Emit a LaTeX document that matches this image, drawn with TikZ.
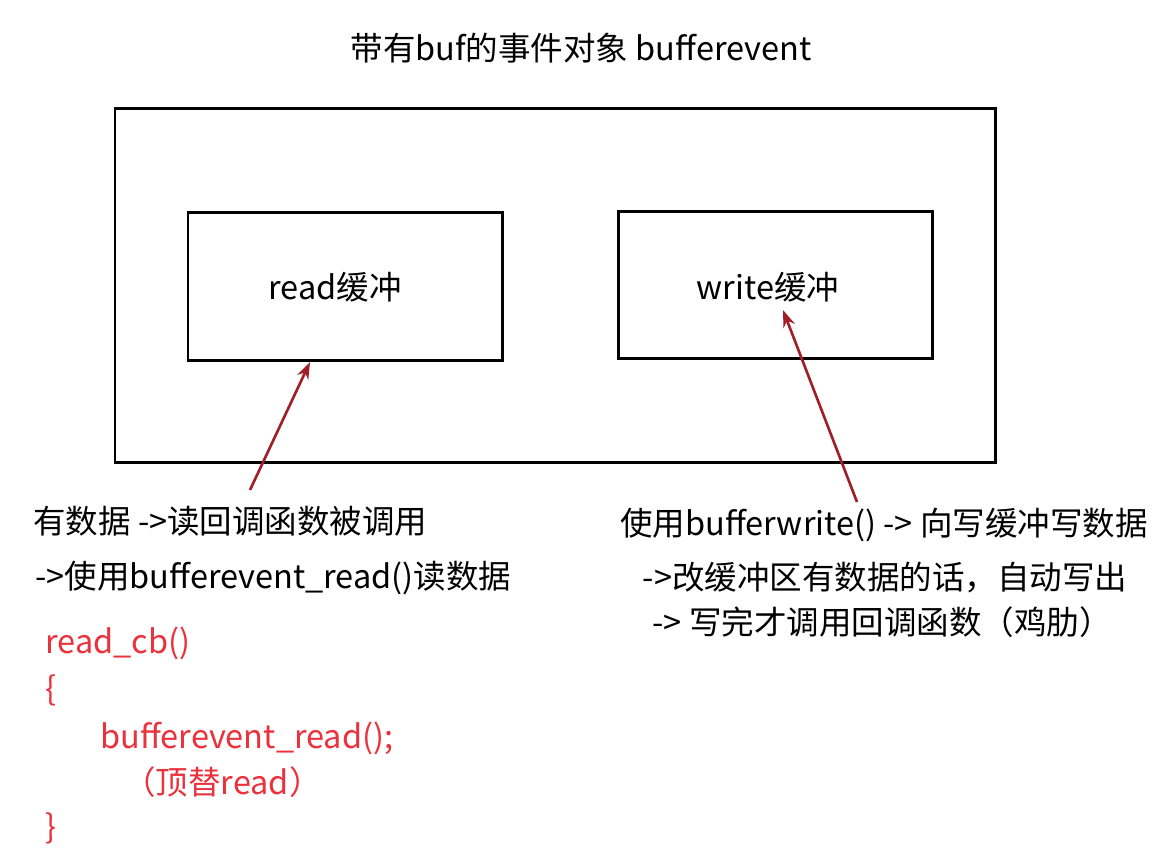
\documentclass[tikz,border=0pt]{standalone}
\usepackage{fontspec}
\setmainfont{Noto Sans CJK SC}
\usetikzlibrary{arrows.meta}
\definecolor{arrowred}{RGB}{160,30,40}
\definecolor{codered}{RGB}{235,50,60}
\begin{document}
\begin{tikzpicture}[x=0.02cm,y=-0.02cm,
    box/.style={draw,line width=1.7pt},
    txt/.style={inner sep=0pt,font=\fontsize{18.5}{22}\selectfont},
    code/.style={txt,anchor=west,text=codered},
    ptr/.style={-{Stealth[length=0.34cm,width=0.24cm]},draw=arrowred,line width=1.5pt}]
    \useasboundingbox (0,0) rectangle (1172,860);
    \node[txt] (title) at (581,48) {带有buf的事件对象 bufferevent};
    \draw[box] (115,108) rectangle (995,462);
    \draw[box] (188,212) rectangle (502,360);
    \draw[box] (618,211) rectangle (932,358);
    \node[txt] (rbuf) at (335,287) {read缓冲};
    \node[txt] (wbuf) at (768,287) {write缓冲};
    \coordinate (rfrom) at (250,490);
    \coordinate (rto) at (310,362);
    \coordinate (wfrom) at (857,502);
    \coordinate (wto) at (783,310);
    \draw[ptr] (rfrom) -- (rto);
    \draw[ptr] (wfrom) -- (wto);
    \node[txt,anchor=west] (r1) at (33,521) {有数据 ->读回调函数被调用};
    \node[txt,anchor=west] (r2) at (35,578) {->使用bufferevent\_read()读数据};
    \node[code] (c1) at (45,643) {read\_cb()};
    \node[code] (c2) at (45,690) {\{};
    \node[code] (c3) at (100,738) {bufferevent\_read();};
    \node[code] (c4) at (123,782) {（顶替read）};
    \node[code] (c5) at (45,828) {\}};
    \node[txt] (w1) at (884,525) {使用bufferwrite() -> 向写缓冲写数据};
    \node[txt] (w2) at (885,578) {->改缓冲区有数据的话，自动写出};
    \node[txt] (w3) at (882,622) {-> 写完才调用回调函数（鸡肋）};

\end{tikzpicture}
\end{document}
